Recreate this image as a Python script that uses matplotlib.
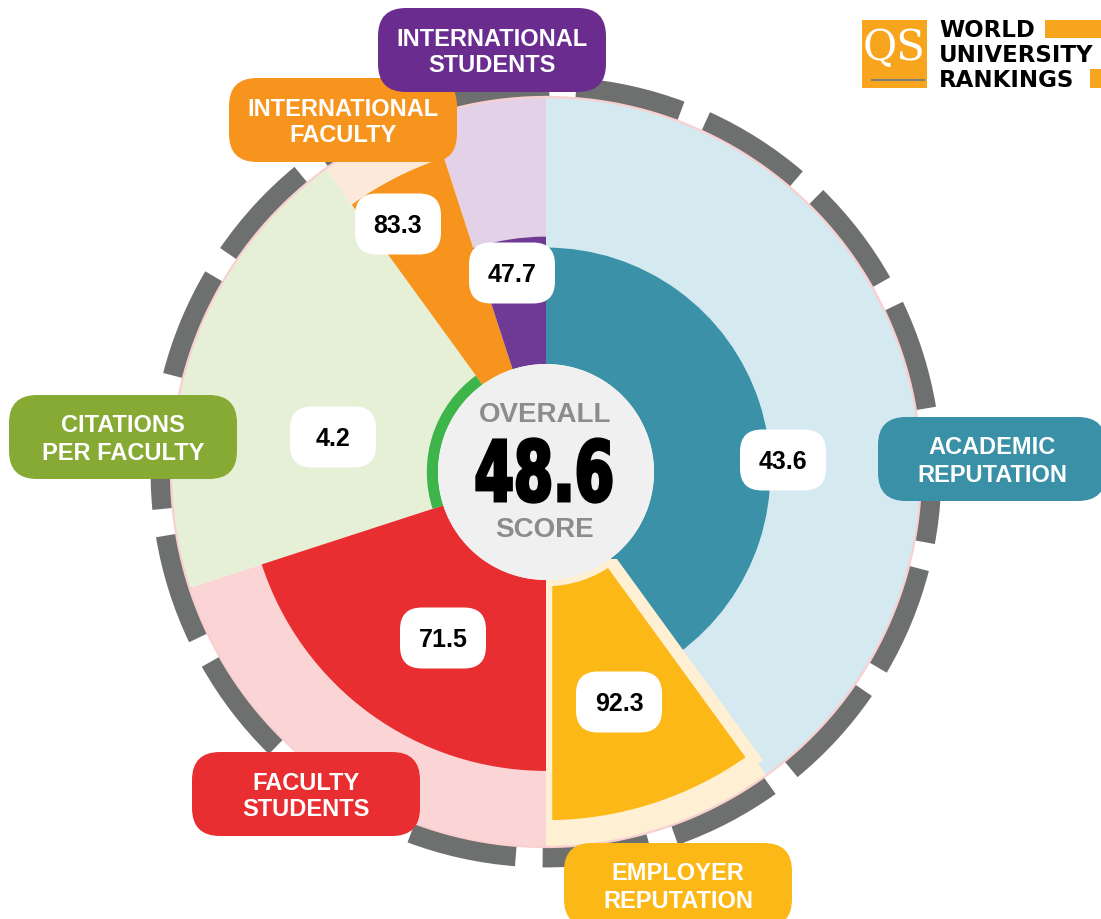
import numpy as np
import matplotlib.pyplot as plt
from matplotlib.patches import FancyBboxPatch, PathPatch, Rectangle
from matplotlib.textpath import TextPath
from matplotlib.font_manager import FontProperties
from matplotlib.transforms import Affine2D

# QS score breakdown, clockwise from the top
categories = [["ACADEMIC", "REPUTATION"], ["EMPLOYER", "REPUTATION"],
              ["FACULTY", "STUDENTS"], ["CITATIONS", "PER FACULTY"],
              ["INTERNATIONAL", "FACULTY"], ["INTERNATIONAL", "STUDENTS"]]
weights = [40, 10, 20, 20, 5, 5]          # % of overall score
scores = [43.6, 92.3, 71.5, 4.2, 83.3, 47.7]
overall = 48.6

main_colors = ["#3A91A8", "#FBB817", "#E82E31", "#3DB54A", "#F7941D", "#6E3A96"]
pale_colors = ["#D4E9F0", "#FFF0D3", "#FBD5D5", "#E6F0D6", "#FDE9D9", "#E2D1E7"]
box_colors = ["#3A90A6", "#FBB817", "#E82E31", "#86AA33", "#F7941D", "#6A2D8F"]

# layout in pixels
W, H = 1101, 919
cx, cy = 546, 472
px_per_unit = 2.67
hole = 40.45          # centre disc radius, in score units
rmax = 150
cat_box_xy = [(992, 459), (678, 885), (306, 794), (123, 437), (343, 120), (492, 50)]
val_box_xy = [(783, 460), (619, 702), (443, 638), (333, 437), (398, 224), (512, 273)]

label_font = dict(family="Liberation Sans", weight="bold")

fig = plt.figure(figsize=(W / 100, H / 100), dpi=100)
half = rmax * px_per_unit
ax = fig.add_axes([(cx - half) / W, (H - cy - half) / H, 2 * half / W, 2 * half / H],
                  projection="polar")
ax.set_theta_zero_location("N")
ax.set_theta_direction(-1)
ax.set_ylim(0, rmax)
ax.axis("off")

starts = np.radians(np.cumsum([0] + weights[:-1]) * 3.6)
widths = np.radians(np.array(weights) * 3.6)

# grey dashed rim
rim = np.radians(np.arange(18) * 20 + 4.5)
ax.bar(rim, 8.8, width=np.radians(16.0), bottom=139.3, align="edge",
       color="#6E706F", linewidth=0, zorder=1)

pale = ax.bar(starts, 100, width=widths, bottom=hole, align="edge",
              color=pale_colors, linewidth=0, zorder=2)
th = np.linspace(0, 2 * np.pi, 500)
ax.plot(th, np.full_like(th, hole + 100), color="#F9D0D0", lw=1.6, zorder=3)

bars = ax.bar(starts, scores, width=widths, bottom=hole, align="edge",
              color=main_colors, linewidth=0, zorder=4)
# employer wedge sits inset with a cream border
bars[1].set_edgecolor(pale_colors[1])
bars[1].set_linewidth(9)
bars[1].set_zorder(5)
bars[1].set_clip_path(pale[1])

ax.bar(0, hole, width=2 * np.pi, bottom=0, color="#F0F0F0", linewidth=0, zorder=6)

# overlay in pixel coordinates
ov = fig.add_axes([0, 0, 1, 1])
ov.set_xlim(0, W)
ov.set_ylim(H, 0)
ov.axis("off")

for (x, y), col, lines in zip(cat_box_xy, box_colors, categories):
    ov.add_patch(FancyBboxPatch((x - 114, y - 42), 228, 84,
                                boxstyle="round,pad=0,rounding_size=28",
                                fc=col, ec="none"))
    ov.text(x, y - 13 + 8.5, lines[0], color="white", fontsize=17,
            ha="center", va="baseline", **label_font)
    ov.text(x, y + 14 + 8.5, lines[1], color="white", fontsize=17,
            ha="center", va="baseline", **label_font)

for (x, y), v in zip(val_box_xy, scores):
    ov.add_patch(FancyBboxPatch((x - 43, y - 30.5), 86, 61,
                                boxstyle="round,pad=0,rounding_size=22",
                                fc="white", ec="none"))
    ov.text(x, y + 9, f"{v:.1f}", color="black", fontsize=18,
            ha="center", va="baseline", **label_font)

# centre text
ov.text(545, 422, "OVERALL", color="#8C8C8E", fontsize=20,
        ha="center", va="baseline", **label_font)
ov.text(544, 537, "SCORE", color="#8C8C8E", fontsize=20,
        ha="center", va="baseline", **label_font)

tp = TextPath((0, 0), f"{overall:.1f}", size=100,
              prop=FontProperties(family="DejaVu Sans", weight="bold"))
ext = tp.get_extents()
sx = 134 / ext.width
sy = 63 / ext.height
tr = (Affine2D().translate(-ext.x0, -ext.y0).scale(sx, -sy).translate(477, 502)
      + ov.transData)
ov.add_patch(PathPatch(tp, transform=tr, fc="black", ec="black", lw=2.4))

# logo
ov.add_patch(Rectangle((862, 20), 65, 68, fc="#F8A51E", ec="none"))
ov.text(894, 60, "QS", color="white", fontsize=30, family="DejaVu Serif",
        ha="center", va="baseline")
ov.plot([872, 924], [80, 80], color="#7F7F7F", lw=1.5)
ov.add_patch(Rectangle((1045, 20), 56, 18, fc="#F8A51E", ec="none"))
ov.add_patch(Rectangle((1090, 69), 11, 19, fc="#F8A51E", ec="none"))
logo_font = dict(family="DejaVu Sans", weight="bold", color="black", fontsize=16.5,
                 ha="left", va="baseline")
ov.text(939, 37, "WORLD", **logo_font)
ov.text(939, 62, "UNIVERSITY", **logo_font)
ov.text(939, 87, "RANKINGS", **logo_font)

fig.savefig("out.png", dpi=100)
